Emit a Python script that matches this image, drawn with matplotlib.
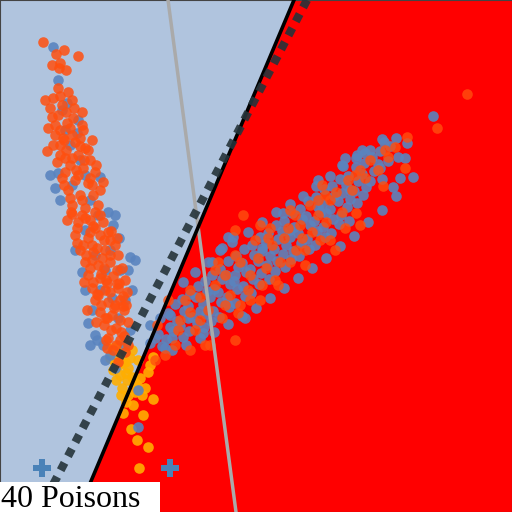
import matplotlib
matplotlib.use("Agg")
import matplotlib.pyplot as plt
from matplotlib.patches import Polygon, Rectangle

# coordinates (pixel-like units, y grows downward)
left_blue_x = [53, 58, 67, 62, 77, 58, 55, 100, 108, 115, 113, 119, 130, 135, 82, 88, 97, 103, 130, 70,
               80, 72, 90, 85, 95, 105, 100, 112, 118, 125, 110, 95, 92, 120, 78, 65, 85, 98, 110, 125,
               50, 60, 75, 85, 90, 105, 115, 128, 132]
left_blue_y = [47, 80, 103, 110, 133, 173, 188, 177, 212, 215, 225, 238, 257, 260, 272, 323, 340, 345, 330, 145,
               160, 185, 200, 230, 255, 270, 290, 298, 318, 345, 355, 335, 310, 270, 120, 130, 175, 215, 250, 300,
               175, 200, 250, 290, 345, 360, 368, 270, 290]

left_orange_x = [43, 64, 56, 78, 52, 60, 59, 66, 58, 68, 45, 53, 60, 82, 73, 52, 67, 83, 55, 63,
                 70, 75, 60, 47, 85, 66, 78, 90, 57, 70, 83, 95, 62, 75, 88, 68, 80, 93, 100, 72,
                 85, 98, 67, 78, 90, 103, 75, 88, 100, 110, 80, 93, 105, 118, 85, 98, 110, 122, 88, 100,
                 113, 125, 92, 105, 118, 127, 95, 108, 120, 100, 112, 124, 104, 116, 128, 108, 120, 113, 125, 118,
                 107, 96, 87, 62, 72, 55, 80, 65, 88, 76, 92, 82, 95, 108, 92, 115, 102, 90, 107, 98,
                 115, 105, 121, 64, 71, 77, 84, 93, 101, 111, 117, 123,
                 50, 58, 66, 74, 48, 60, 72, 82, 53, 64, 80, 92, 60, 72, 84, 96, 65, 78, 90, 103,
                 70, 82, 95, 72, 85, 100, 77, 90, 104, 117, 83, 97, 110, 86, 92, 104, 117, 93, 106, 119,
                 97, 110, 123, 101, 114, 126, 107, 120, 111, 124, 116, 106, 128]
left_orange_y = [42, 50, 54, 56, 65, 63, 68, 70, 88, 92, 100, 98, 96, 112, 118, 117, 123, 130, 135, 138,
                 128, 142, 145, 151, 148, 150, 155, 160, 162, 165, 168, 172, 178, 180, 183, 190, 195, 195, 190, 205,
                 208, 205, 220, 222, 220, 222, 235, 238, 235, 240, 250, 252, 250, 255, 262, 265, 262, 268, 275, 278,
                 276, 280, 288, 290, 288, 292, 300, 302, 300, 312, 315, 310, 325, 328, 322, 338, 340, 350, 352, 362,
                 348, 322, 310, 105, 100, 125, 138, 158, 150, 170, 185, 215, 228, 232, 245, 245, 258, 268, 283, 295,
                 305, 318, 332, 185, 212, 243, 282, 226, 274, 231, 284, 306,
                 108, 115, 112, 108, 128, 130, 135, 125, 145, 140, 146, 140, 155, 158, 160, 165, 172, 175, 178, 182,
                 198, 200, 212, 214, 218, 215, 228, 232, 240, 238, 245, 248, 255, 255, 260, 268, 270, 282, 280, 283,
                 294, 292, 296, 305, 308, 305, 318, 320, 330, 336, 345, 340, 345]

right_orange_x = [243, 235, 200, 168, 157, 238, 467, 437, 407, 395, 388, 405, 370, 330, 318, 302, 288, 272, 258, 250,
                  262, 280, 296, 312, 326, 342, 352, 365, 378, 225, 215, 208, 190, 178, 185, 230, 248, 266, 284, 300,
                  318, 336, 348, 360, 320, 305, 290, 275, 260, 240, 222, 195, 175, 165, 155, 345, 330, 255, 270, 235,
                  218, 310, 322, 210, 190, 383, 356,
                  190, 215, 240, 268, 295, 325, 355, 385, 200, 225, 250, 278, 305, 335, 360, 235, 205, 180, 260, 290]
right_orange_y = [215, 230, 297, 300, 325, 313, 94, 128, 137, 147, 157, 168, 160, 200, 215, 238, 228, 245, 258, 275,
                  285, 262, 250, 232, 222, 212, 190, 178, 170, 275, 285, 310, 312, 330, 300, 295, 290, 268, 238, 225,
                  200, 192, 180, 170, 240, 250, 262, 280, 300, 305, 318, 330, 345, 355, 360, 228, 240, 240, 228, 255,
                  262, 205, 185, 345, 350, 186, 213,
                  290, 270, 262, 238, 215, 195, 175, 150, 320, 305, 300, 285, 265, 250, 225, 340, 345, 320, 225, 210]

right_blue_x = [160, 158, 162, 168, 170, 166, 175, 177, 173, 182, 184, 180, 183, 190, 188, 192, 189, 198, 196, 200,
                197, 205, 207, 203, 206, 204, 212, 214, 210, 213, 211, 220, 222, 218, 221, 219, 228, 226, 230, 227,
                229, 236, 238, 234, 237, 235, 244, 242, 246, 243, 245, 252, 254, 250, 253, 251, 260, 262, 258, 261,
                259, 268, 266, 270, 267, 269, 276, 278, 274, 277, 275, 284, 282, 286, 283, 285, 292, 294, 290, 293,
                291, 300, 302, 298, 301, 299, 308, 306, 310, 307, 309, 316, 318, 314, 317, 315, 324, 322, 326, 323,
                325, 332, 334, 330, 333, 331, 340, 342, 338, 341, 339, 348, 346, 350, 347, 349, 356, 358, 354, 357,
                364, 362, 366, 363, 372, 374, 370, 380, 378, 382, 390, 388, 398, 400, 407, 405, 413, 433, 382, 393,
                345, 357, 365, 227, 245, 203, 170, 150, 138, 138, 188, 172, 233, 283, 318, 342, 362,
                183, 195, 208, 220, 232, 248, 262, 276, 290, 303, 316, 330, 343, 356, 370, 384, 396, 228, 222, 212,
                172, 186, 200, 214, 228, 242, 256, 270, 284, 298, 312, 326, 340, 354, 368, 382, 396, 165, 155, 150,
                235, 262, 290, 320, 350, 380]
right_blue_y = [318, 334, 346, 313, 327, 339, 304, 321, 331, 299, 311, 326, 337, 294, 306, 317, 331, 286, 297, 311,
                323, 281, 291, 304, 314, 327, 275, 289, 297, 311, 321, 269, 279, 292, 302, 317, 261, 275, 284, 297,
                307, 256, 267, 281, 289, 303, 249, 263, 272, 286, 296, 245, 255, 269, 279, 293, 237, 251, 261, 273,
                284, 233, 243, 256, 265, 279, 225, 239, 249, 261, 271, 221, 231, 245, 254, 267, 213, 227, 237, 251,
                259, 209, 219, 233, 243, 256, 201, 216, 225, 239, 249, 197, 207, 221, 231, 245, 189, 204, 213, 227,
                237, 186, 196, 209, 219, 233, 179, 193, 201, 215, 224, 176, 185, 199, 207, 221, 167, 181, 191, 203,
                163, 174, 187, 195, 157, 171, 181, 151, 164, 179, 146, 161, 157, 178, 143, 158, 177, 116, 139, 187,
                158, 155, 153, 303, 318, 333, 315, 343, 390, 427, 318, 338, 237, 213, 180, 165, 150,
                282, 272, 262, 250, 242, 232, 222, 212, 204, 196, 186, 176, 166, 158, 150, 142, 138, 237, 248, 262,
                350, 345, 338, 332, 324, 316, 308, 298, 288, 278, 268, 258, 246, 236, 222, 210, 196, 348, 338, 325,
                275, 248, 230, 212, 190, 168]

poison_x = [153, 125, 117, 132, 135, 142, 153, 123, 143, 131, 137, 148, 139, 126, 137, 115, 123, 120, 150, 128,
            119, 130, 113, 127, 122, 135, 118, 125, 110, 132, 140, 145, 128, 116, 121, 133, 148, 138, 112, 126]
poison_y = [357, 362, 367, 377, 383, 395, 399, 413, 415, 429, 440, 447, 468, 373, 385, 363, 363, 375, 365, 368,
            355, 358, 370, 380, 388, 392, 345, 348, 358, 350, 378, 388, 395, 380, 395, 405, 372, 360, 348, 402]

cross_x = [42, 170]
cross_y = [468, 468]

# lines across the frame
black_line_x = [294, 78]
black_line_y = [0, 512]
dashed_line_x = [307, 44]
dashed_line_y = [0, 502]
gray_line_x = [168, 236]
gray_line_y = [0, 512]

label = "40 Poisons"

fig = plt.figure(figsize=(5.12, 5.12), dpi=100)
ax = fig.add_axes([0, 0, 1, 1])
ax.set_xlim(0, 512)
ax.set_ylim(512, 0)
ax.set_facecolor("#b0c4de")
ax.set_xticks([])
ax.set_yticks([])
for s in ax.spines.values():
    s.set_color("#444444")
    s.set_linewidth(0.8)

# red half-plane right of the black boundary
ax.add_patch(Polygon([(black_line_x[0], 0), (512, 0), (512, 512), (black_line_x[1], 512)],
                     closed=True, facecolor="#ff0000", edgecolor="none", zorder=1))

blue = "#5a84bf"
orange = "#ff4f0f"
kw = dict(s=58, linewidths=0, zorder=2)
ax.scatter(poison_x, poison_y, color="#ffae00", alpha=0.9, **kw)
ax.scatter(left_blue_x, left_blue_y, color=blue, alpha=0.9, **kw)
ax.scatter(right_blue_x, right_blue_y, color=blue, alpha=0.9, **kw)
ax.scatter(left_orange_x, left_orange_y, color=orange, alpha=0.85, **kw)
ax.scatter(right_orange_x, right_orange_y, color=orange, alpha=0.8, **kw)

ax.plot(gray_line_x, gray_line_y, color="#aaaaaa", lw=2.5, zorder=3)
ax.plot(black_line_x, black_line_y, color="black", lw=2.6, zorder=4)
ax.plot(dashed_line_x, dashed_line_y, color="#25343a", lw=6, alpha=0.9,
        linestyle=(0, (1.0, 0.9)), solid_capstyle="butt", dash_capstyle="butt", zorder=5)

ax.plot(cross_x, cross_y, linestyle="none", marker="P", markersize=13,
        color="#4a82b8", markeredgewidth=0, zorder=6)

ax.add_patch(Rectangle((0, 482), 160, 30, facecolor="white", edgecolor="none", zorder=7))
ax.text(1, 507, label, fontsize=23, family="Liberation Serif", color="black",
        ha="left", va="baseline", zorder=8)

fig.savefig("out.png", dpi=100)
